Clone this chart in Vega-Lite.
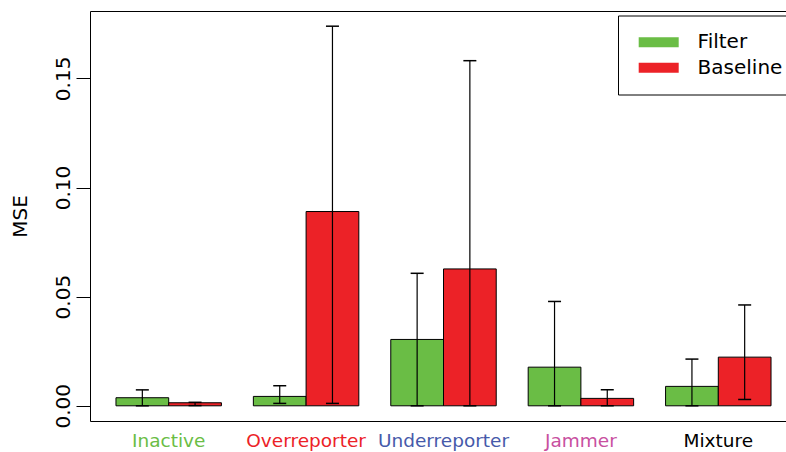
{
  "$schema": "https://vega.github.io/schema/vega-lite/v6.json",
  "autosize": {"type": "none"},
  "width": 707,
  "height": 410,
  "padding": {"left": 90, "top": 11, "right": -11, "bottom": 31},
  "background": "white",
  "config": {
    "view": {"stroke": "black", "strokeWidth": 1},
    "font": "DejaVu Sans"
  },
  "data": {
    "values": [
      {"group": "Inactive", "series": "Filter", "mse": 0.0037, "lo": 0.0, "hi": 0.0073},
      {"group": "Inactive", "series": "Baseline", "mse": 0.0014, "lo": 0.0001, "hi": 0.0016},
      {"group": "Overreporter", "series": "Filter", "mse": 0.0043, "lo": 0.0011, "hi": 0.0092},
      {"group": "Overreporter", "series": "Baseline", "mse": 0.089, "lo": 0.0011, "hi": 0.1739},
      {"group": "Underreporter", "series": "Filter", "mse": 0.0304, "lo": 0.0, "hi": 0.0607},
      {"group": "Underreporter", "series": "Baseline", "mse": 0.0627, "lo": 0.0, "hi": 0.1581},
      {"group": "Jammer", "series": "Filter", "mse": 0.0177, "lo": 0.0, "hi": 0.0478},
      {"group": "Jammer", "series": "Baseline", "mse": 0.0034, "lo": 0.0, "hi": 0.0073},
      {"group": "Mixture", "series": "Filter", "mse": 0.0089, "lo": 0.0, "hi": 0.0214},
      {"group": "Mixture", "series": "Baseline", "mse": 0.0223, "lo": 0.0029, "hi": 0.0462}
    ]
  },
  "encoding": {
    "x": {
      "field": "group",
      "type": "nominal",
      "sort": ["Inactive", "Overreporter", "Underreporter", "Jammer", "Mixture"],
      "scale": {"paddingInner": 0.2325, "paddingOuter": 0.189},
      "axis": {
        "title": null,
        "domain": false,
        "ticks": false,
        "tickSize": 0,
        "labelAngle": 0,
        "labelFontSize": 18.5,
        "labelPadding": 25,
        "labelBaseline": "alphabetic",
        "labelAlign": "center",
        "labelColor": {
          "condition": [
            {"test": "datum.value === 'Inactive'", "value": "#6abd45"},
            {"test": "datum.value === 'Overreporter'", "value": "#ec2227"},
            {"test": "datum.value === 'Underreporter'", "value": "#465aaa"},
            {"test": "datum.value === 'Jammer'", "value": "#c850a0"}
          ],
          "value": "#000000"
        }
      }
    },
    "xOffset": {
      "field": "series",
      "type": "nominal",
      "sort": ["Filter", "Baseline"],
      "scale": {"paddingInner": 0, "paddingOuter": 0}
    }
  },
  "layer": [
    {
      "mark": {"type": "bar", "stroke": "black", "strokeWidth": 1},
      "encoding": {
        "y": {
          "field": "mse",
          "type": "quantitative",
          "scale": {"domain": [-0.00696, 0.18086], "nice": false, "zero": false},
          "axis": {
            "title": "MSE",
            "titleFontSize": 20,
            "titleFontWeight": "normal",
            "titleColor": "black",
            "titleAngle": 270,
            "titleAlign": "center",
            "titleBaseline": "alphabetic",
            "titleX": -64,
            "values": [0, 0.05, 0.1, 0.15],
            "format": ".2f",
            "grid": false,
            "domain": false,
            "tickSize": 14,
            "tickColor": "black",
            "tickWidth": 1,
            "labelAngle": 270,
            "labelAlign": "center",
            "labelBaseline": "alphabetic",
            "labelPadding": 7,
            "labelFontSize": 20,
            "labelColor": "black",
            "labelFlush": false,
            "labelOverlap": false
          }
        },
        "y2": {"datum": 0},
        "color": {
          "field": "series",
          "type": "nominal",
          "scale": {"domain": ["Filter", "Baseline"], "range": ["#6abd45", "#ec2227"]},
          "legend": {
            "title": null,
            "orient": "none",
            "legendX": 528,
            "legendY": 4.5,
            "strokeColor": "black",
            "fillColor": "white",
            "padding": 16.7,
            "symbolType": "M-1.2,-1H6.8V1H-1.2Z",
            "symbolSize": 100,
            "symbolStrokeWidth": 0,
            "symbolOpacity": 1,
            "labelFontSize": 20,
            "labelColor": "black",
            "labelOffset": 42.9,
            "rowPadding": 5.6
          }
        }
      }
    },
    {
      "mark": {"type": "rule", "color": "black", "strokeWidth": 1.2},
      "encoding": {
        "y": {"field": "lo", "type": "quantitative"},
        "y2": {"field": "hi"}
      }
    },
    {
      "mark": {"type": "tick", "orient": "horizontal", "size": 13, "thickness": 1.5, "color": "black", "opacity": 1},
      "encoding": {"y": {"field": "hi", "type": "quantitative"}}
    },
    {
      "mark": {"type": "tick", "orient": "horizontal", "size": 13, "thickness": 1.5, "color": "black", "opacity": 1},
      "encoding": {"y": {"field": "lo", "type": "quantitative"}}
    }
  ]
}
